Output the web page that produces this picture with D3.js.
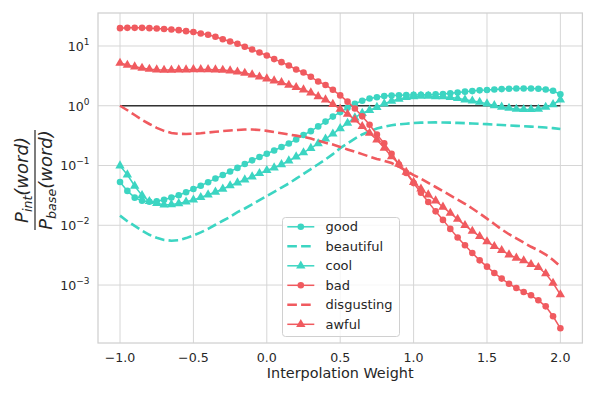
<!DOCTYPE html>
<html>
<head>
<meta charset="utf-8">
<script src="https://cdn.jsdelivr.net/npm/d3@7"></script>
<style>
  body { margin: 0; background: #fff; }
  svg { display: block; font-family: "DejaVu Sans", sans-serif; }
</style>
</head>
<body>
<svg id="chart" width="589" height="394"></svg>
<script>
// interpolation weights (x)
const weights = [
  -1.00, -0.95, -0.90, -0.85, -0.80, -0.75, -0.70, -0.65, -0.60, -0.55,
  -0.50, -0.45, -0.40, -0.35, -0.30, -0.25, -0.20, -0.15, -0.10, -0.05,
   0.00,  0.05,  0.10,  0.15,  0.20,  0.25,  0.30,  0.35,  0.40,  0.45,
   0.50,  0.55,  0.60,  0.65,  0.70,  0.75,  0.80,  0.85,  0.90,  0.95,
   1.00,  1.05,  1.10,  1.15,  1.20,  1.25,  1.30,  1.35,  1.40,  1.45,
   1.50,  1.55,  1.60,  1.65,  1.70,  1.75,  1.80,  1.85,  1.90,  1.95,
   2.00
];

// P_int(word) / P_base(word)
const good = [
  0.053, 0.0376, 0.029, 0.0257, 0.0247, 0.0253, 0.0268, 0.0292, 0.0318, 0.0356,
  0.0404, 0.0459, 0.0526, 0.0605, 0.0692, 0.0794, 0.0912, 0.106, 0.122, 0.139,
  0.157, 0.178, 0.204, 0.234, 0.273, 0.324, 0.376, 0.451, 0.543, 0.658,
  0.783, 0.923, 1.08, 1.21, 1.32, 1.39, 1.45, 1.48, 1.50, 1.51,
  1.52, 1.53, 1.53, 1.55, 1.57, 1.62, 1.67, 1.72, 1.76, 1.81,
  1.83, 1.87, 1.90, 1.92, 1.94, 1.94, 1.94, 1.92, 1.87, 1.78,
  1.55
];
const beautiful = [
  0.0145, 0.0117, 0.00977, 0.00813, 0.00692, 0.00617, 0.00569, 0.00552, 0.00562, 0.0061,
  0.00676, 0.00759, 0.00871, 0.0102, 0.0119, 0.0138, 0.0166, 0.0191, 0.0224, 0.0263,
  0.0309, 0.0363, 0.0427, 0.0501, 0.0603, 0.0724, 0.0871, 0.105, 0.126, 0.155,
  0.195, 0.234, 0.282, 0.331, 0.372, 0.417, 0.447, 0.473, 0.490, 0.501,
  0.513, 0.521, 0.525, 0.526, 0.525, 0.521, 0.516, 0.511, 0.505, 0.499,
  0.492, 0.484, 0.476, 0.468, 0.460, 0.454, 0.447, 0.440, 0.432, 0.422,
  0.407
];
const cool = [
  0.099, 0.070, 0.0454, 0.0316, 0.0251, 0.0233, 0.0220, 0.0223, 0.0232, 0.0247,
  0.0266, 0.0293, 0.0325, 0.0360, 0.0404, 0.0461, 0.0515, 0.0579, 0.0650, 0.0738,
  0.0830, 0.0918, 0.104, 0.120, 0.140, 0.164, 0.195, 0.232, 0.279, 0.339,
  0.417, 0.513, 0.631, 0.750, 0.841, 0.944, 1.08, 1.20, 1.30, 1.38,
  1.43, 1.45, 1.45, 1.43, 1.42, 1.38, 1.33, 1.26, 1.21, 1.15,
  1.08, 1.01, 0.955, 0.912, 0.881, 0.869, 0.869, 0.879, 0.951, 1.05,
  1.26
];
const bad = [
  19.9, 20.1, 20.1, 20.1, 19.9, 19.6, 19.2, 18.9, 18.4, 17.7,
  17.1, 16.2, 15.4, 14.3, 13.0, 11.9, 10.9, 9.7, 8.75, 7.8,
  6.95, 6.03, 5.37, 4.72, 4.05, 3.61, 3.05, 2.54, 2.23, 1.85,
  1.49, 1.17, 0.90, 0.665, 0.48, 0.33, 0.235, 0.157, 0.104, 0.0748,
  0.0508, 0.0350, 0.0245, 0.0171, 0.0123, 0.0087, 0.00625, 0.00462, 0.00344, 0.00259,
  0.00203, 0.00159, 0.00128, 0.00105, 0.00089, 0.000766, 0.000673, 0.000555, 0.00044, 0.0003,
  0.000189
];
const disgusting = [
  1.00, 0.841, 0.700, 0.582, 0.495, 0.427, 0.380, 0.351, 0.339, 0.337,
  0.340, 0.347, 0.357, 0.367, 0.377, 0.385, 0.394, 0.400, 0.401, 0.394,
  0.380, 0.363, 0.347, 0.331, 0.316, 0.302, 0.282, 0.260, 0.240, 0.224,
  0.204, 0.186, 0.170, 0.155, 0.141, 0.129, 0.120, 0.110, 0.0955, 0.0813,
  0.0692, 0.0603, 0.0513, 0.0437, 0.0372, 0.0316, 0.0269, 0.0229, 0.0191, 0.0158,
  0.0129, 0.0105, 0.00851, 0.00708, 0.00603, 0.00513, 0.00437, 0.00380, 0.00324, 0.00263,
  0.00204
];
const awful = [
  5.18, 4.79, 4.49, 4.27, 4.10, 4.00, 3.95, 3.95, 4.00, 4.00,
  4.05, 4.05, 4.05, 4.00, 3.95, 3.85, 3.70, 3.52, 3.30, 3.05,
  2.83, 2.62, 2.45, 2.22, 2.03, 1.85, 1.65, 1.43, 1.26, 1.06,
  0.879, 0.724, 0.583, 0.451, 0.349, 0.270, 0.196, 0.141, 0.106, 0.0776,
  0.0525, 0.0407, 0.0324, 0.0257, 0.0202, 0.0160, 0.0127, 0.00997, 0.0080, 0.00653,
  0.00532, 0.00444, 0.00381, 0.00322, 0.00284, 0.00256, 0.00222, 0.00198, 0.00155, 0.00108,
  0.00069
];

const xTicks = [-1.0, -0.5, 0.0, 0.5, 1.0, 1.5, 2.0];
const yTicks = [1e1, 1e0, 1e-1, 1e-2, 1e-3];
const yTickExp = ["1", "0", "\u22121", "\u22122", "\u22123"];

const TEAL = "#3cd5c2";
const RED = "#f05a5f";

const series = [
  { name: "good", values: good, color: TEAL, marker: "circle", dashed: false },
  { name: "beautiful", values: beautiful, color: TEAL, marker: null, dashed: true },
  { name: "cool", values: cool, color: TEAL, marker: "triangle", dashed: false },
  { name: "bad", values: bad, color: RED, marker: "circle", dashed: false },
  { name: "disgusting", values: disgusting, color: RED, marker: null, dashed: true },
  { name: "awful", values: awful, color: RED, marker: "triangle", dashed: false }
];

const svg = d3.select("#chart");
const plotL = 98, plotR = 582.4, plotT = 13, plotB = 343;

const x = d3.scaleLinear().domain([-1.15, 2.15]).range([plotL, plotR]);
const y = d3.scaleLog().domain([Math.pow(10, -3.97), Math.pow(10, 1.552)]).range([plotB, plotT]);

// grid
const grid = svg.append("g").attr("stroke", "#d6d6d6").attr("stroke-width", 1);
grid.selectAll("line.gx")
    .data(xTicks)
    .enter()
    .append("line")
    .attr("class", "gx")
    .attr("x1", d => x(d)).attr("x2", d => x(d))
    .attr("y1", plotT).attr("y2", plotB);
grid.selectAll("line.gy")
    .data(yTicks)
    .enter()
    .append("line")
    .attr("class", "gy")
    .attr("x1", plotL).attr("x2", plotR)
    .attr("y1", d => y(d)).attr("y2", d => y(d));

// frame
svg.append("rect")
    .attr("x", plotL).attr("y", plotT)
    .attr("width", plotR - plotL).attr("height", plotB - plotT)
    .attr("fill", "none")
    .attr("stroke", "#d0d0d0")
    .attr("stroke-width", 1.25);

// x tick labels
const fmtX = d => (d < 0 ? "\u2212" : "") + Math.abs(d).toFixed(1);
svg.append("g").selectAll("text")
    .data(xTicks)
    .enter()
    .append("text")
    .attr("x", d => x(d))
    .attr("y", 361.5)
    .attr("text-anchor", "middle")
    .attr("font-size", 12.6)
    .attr("fill", "#262626")
    .text(fmtX);

// y tick labels (10^n)
const yLab = svg.append("g").selectAll("text")
    .data(yTicks)
    .enter()
    .append("text")
    .attr("x", 89.5)
    .attr("y", d => y(d) + 4.8)
    .attr("text-anchor", "end")
    .attr("font-size", 12.6)
    .attr("fill", "#262626");
yLab.append("tspan").text("10");
yLab.append("tspan")
    .attr("font-size", 9)
    .attr("dy", -6)
    .text((d, i) => yTickExp[i]);

// axis titles
svg.append("text")
    .attr("x", (plotL + plotR) / 2)
    .attr("y", 378)
    .attr("text-anchor", "middle")
    .attr("font-size", 14.4)
    .attr("fill", "#262626")
    .text("Interpolation Weight");

const ylab = svg.append("g").attr("transform", "translate(35,180) rotate(-90)");
function fracPart(g, sub, yy) {
    const t = g.append("text")
        .attr("x", 0).attr("y", yy)
        .attr("text-anchor", "middle")
        .attr("font-size", 18)
        .attr("font-style", "italic")
        .attr("fill", "#262626");
    t.append("tspan").text("P");
    t.append("tspan").attr("font-size", 12.6).attr("dy", 4).text(sub);
    t.append("tspan").attr("dy", -4).text("(word)");
}
fracPart(ylab, "int", -7.5);
fracPart(ylab, "base", 17);
ylab.append("line")
    .attr("x1", -50).attr("x2", 50)
    .attr("y1", 0).attr("y2", 0)
    .attr("stroke", "#262626")
    .attr("stroke-width", 1.2);

// reference line at 1
svg.append("line")
    .attr("x1", x(-1)).attr("x2", x(2))
    .attr("y1", y(1)).attr("y2", y(1))
    .attr("stroke", "#333333")
    .attr("stroke-width", 1.4);

const line = d3.line()
    .x((d, i) => x(weights[i]))
    .y(d => y(d));

const triangle = d3.symbol().type(d3.symbolTriangle).size(38);

series.forEach(s => {
    const g = svg.append("g").attr("class", "series-" + s.name);
    g.append("path")
        .datum(s.values)
        .attr("fill", "none")
        .attr("stroke", s.color)
        .attr("stroke-width", s.dashed ? 2.6 : 1.5)
        .attr("stroke-dasharray", s.dashed ? "9.6,4.2" : null)
        .attr("d", line);
    if (s.marker === "circle") {
        g.selectAll("circle")
            .data(s.values)
            .enter()
            .append("circle")
            .attr("cx", (d, i) => x(weights[i]))
            .attr("cy", d => y(d))
            .attr("r", 3.3)
            .attr("fill", s.color);
    } else if (s.marker === "triangle") {
        g.selectAll("path.tri")
            .data(s.values)
            .enter()
            .append("path")
            .attr("class", "tri")
            .attr("transform", (d, i) => `translate(${x(weights[i])},${y(d)})`)
            .attr("d", triangle)
            .attr("fill", s.color);
    }
});

// legend
const legend = svg.append("g").attr("transform", "translate(282.5,217.5)");
legend.append("rect")
    .attr("width", 117).attr("height", 119)
    .attr("rx", 3)
    .attr("fill", "#fff").attr("fill-opacity", 0.8)
    .attr("stroke", "#d0d0d0").attr("stroke-width", 1);

const rows = legend.selectAll("g.row")
    .data(series)
    .enter()
    .append("g")
    .attr("class", "row")
    .attr("transform", (d, i) => `translate(0,${9.3 + i * 19.5})`);
rows.append("line")
    .attr("x1", 4.8).attr("x2", 31.8)
    .attr("stroke", d => d.color)
    .attr("stroke-width", d => d.dashed ? 2.6 : 1.5)
    .attr("stroke-dasharray", d => d.dashed ? "9.6,4.2" : null);
rows.filter(d => d.marker === "circle")
    .append("circle")
    .attr("cx", 18.3).attr("r", 3.3)
    .attr("fill", d => d.color);
rows.filter(d => d.marker === "triangle")
    .append("path")
    .attr("transform", "translate(18.3,0)")
    .attr("d", triangle)
    .attr("fill", d => d.color);
rows.append("text")
    .attr("x", 43)
    .attr("y", 4.6)
    .attr("font-size", 13)
    .attr("fill", "#262626")
    .text(d => d.name);
</script>
</body>
</html>
